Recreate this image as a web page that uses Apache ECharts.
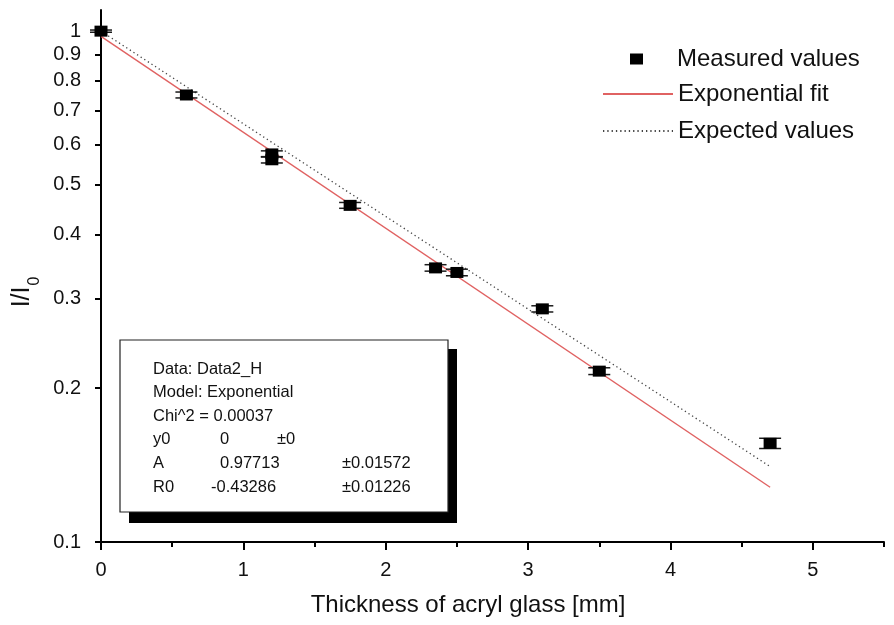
<!DOCTYPE html>
<html>
<head>
<meta charset="utf-8">
<title>Attenuation in acryl glass</title>
<script src="https://cdn.jsdelivr.net/npm/echarts@6/dist/echarts.min.js"></script>
<style>
  html, body { margin: 0; padding: 0; background: #fff; }
  #chart { width: 894px; height: 625px; }
</style>
</head>
<body>
<div id="chart"></div>
<script>
// Measured intensity ratio I/I0 against plate thickness (mm)
const thickness = [0, 0.6, 1.2, 1.2, 1.75, 2.35, 2.5, 3.1, 3.5, 4.7];
const ratio     = [1.0, 0.75, 0.575, 0.56, 0.456, 0.344, 0.337, 0.286, 0.216, 0.156];
const ratioErr  = [0.005, 0.01, 0.008, 0.008, 0.006, 0.005, 0.005, 0.004, 0.0033, 0.0036];

// Exponential fit and expected attenuation (straight lines on a log axis)
const fitX = [0, 4.7];
const fitY = [0.977, 0.128];
const expectedX = [0, 4.7];
const expectedY = [1.0, 0.1405];

// Axis ticks
const yTicks = [0.1, 0.2, 0.3, 0.4, 0.5, 0.6, 0.7, 0.8, 0.9, 1];
const xMajorTicks = [0, 1, 2, 3, 4, 5];
const xMinorTicks = [0.5, 1.5, 2.5, 3.5, 4.5, 5.5];

// Fit report
const reportRows = [
  ['Data: Data2_H'],
  ['Model: Exponential'],
  ['Chi^2 = 0.00037'],
  ['y0', '0', '\u00b10'],
  ['A', '0.97713', '\u00b10.01572'],
  ['R0', '-0.43286', '\u00b10.01226']
];

const FONT = "'Liberation Sans', Arial, Helvetica, sans-serif";
const INK = '#111';

const chart = echarts.init(document.getElementById('chart'), null, { renderer: 'canvas' });

function pair(xs, ys) { return xs.map((x, i) => [x, ys[i]]); }

// report box layout
const boxX = 120, boxY = 340, boxW = 328, boxH = 172;
const rowTop = 369, rowStep = 23.6;
function reportGraphics() {
  const out = [
    { type: 'rect', shape: { x: boxX + 9, y: boxY + 9, width: boxW, height: boxH + 2 }, style: { fill: '#000' }, z: 100 },
    { type: 'rect', shape: { x: boxX, y: boxY, width: boxW, height: boxH }, style: { fill: '#fff', stroke: '#222', lineWidth: 1.2 }, z: 101 }
  ];
  reportRows.forEach((row, r) => {
    const y = rowTop + r * rowStep;
    row.forEach((txt, c) => {
      let x = 153;
      if (c === 1) x = txt.charAt(0) === '-' ? 211 : 220;
      if (c === 2) x = r === 3 ? 277 : 342;
      out.push({
        type: 'text', x: x, y: y, z: 102,
        style: { text: txt, fontSize: 16.5, fontFamily: FONT, fill: INK, verticalAlign: 'middle', align: 'left' }
      });
    });
  });
  return out;
}

const legendText = { fontSize: 24, fontFamily: FONT, color: INK };

const option = {
  backgroundColor: '#fff',
  animation: false,
  grid: { left: 101, right: 10, top: 10, bottom: 83 },
  legend: [
    {
      data: [{ name: 'Measured values', icon: 'rect' }],
      left: 625, top: 42, itemWidth: 13, itemHeight: 11, selectedMode: false,
      itemStyle: { opacity: 1 },
      textStyle: Object.assign({ padding: [0, 0, 0, 29] }, legendText)
    },
    {
      data: ['Exponential fit'],
      left: 597, top: 77, itemWidth: 70, itemHeight: 14, selectedMode: false,
      itemStyle: { opacity: 0 },
      textStyle: Object.assign({ padding: [0, 0, 0, 0] }, legendText)
    },
    {
      data: ['Expected values'],
      left: 597, top: 114, itemWidth: 70, itemHeight: 14, selectedMode: false,
      itemStyle: { opacity: 0 },
      textStyle: Object.assign({ padding: [0, 0, 0, 0] }, legendText)
    }
  ],
  xAxis: [
    {
      type: 'value', min: 0, max: 5.5, interval: 1, position: 'bottom',
      axisLine: { show: true, onZero: false, lineStyle: { color: '#000', width: 2 } },
      axisTick: { show: true, customValues: xMajorTicks, length: 8, lineStyle: { color: '#000', width: 2 } },
      axisLabel: { customValues: xMajorTicks, fontSize: 20, fontFamily: FONT, color: INK, margin: 18 },
      splitLine: { show: false },
      name: 'Thickness of acryl glass [mm]',
      nameLocation: 'middle', nameGap: 51,
      nameTextStyle: { fontSize: 24, fontFamily: FONT, color: INK, padding: [0, 49, 0, 0] }
    },
    {
      type: 'value', min: 0, max: 5.5, interval: 1, position: 'bottom',
      axisLine: { show: false, onZero: false },
      axisTick: { show: true, customValues: xMinorTicks, length: 5, lineStyle: { color: '#000', width: 2 } },
      axisLabel: { show: false },
      splitLine: { show: false }
    }
  ],
  yAxis: {
    type: 'log', logBase: 10, min: 0.1, max: 1.1,
    axisLine: { show: true, onZero: false, lineStyle: { color: '#000', width: 2 } },
    axisTick: { show: true, customValues: yTicks, length: 6, lineStyle: { color: '#000', width: 2 } },
    axisLabel: {
      customValues: yTicks, fontSize: 20, fontFamily: FONT, color: INK, margin: 20,
      formatter: v => String(+(+v).toFixed(2))
    },
    minorTick: { show: false },
    splitLine: { show: false },
    name: '{a|I/I}{b|0}',
    nameLocation: 'middle', nameGap: 54, nameRotate: 90,
    nameTextStyle: {
      padding: [0, 32, 0, 0],
      rich: {
        a: { fontSize: 25, lineHeight: 27, fontFamily: FONT, color: INK, verticalAlign: 'top' },
        b: { fontSize: 16, lineHeight: 16, fontFamily: FONT, color: INK, verticalAlign: 'top', padding: [17, 0, 0, 1] }
      }
    }
  },
  series: [
    {
      name: 'Exponential fit', type: 'line',
      data: pair(fitX, fitY),
      showSymbol: false, symbol: 'none',
      lineStyle: { color: '#e06262', width: 1.4 },
      itemStyle: { color: '#e06262' },
      z: 2
    },
    {
      name: 'Expected values', type: 'line',
      data: pair(expectedX, expectedY),
      showSymbol: false, symbol: 'none',
      lineStyle: { color: '#444', width: 1.3, type: [1.3, 3] },
      itemStyle: { color: '#444' },
      z: 2
    },
    {
      name: 'errors', type: 'custom',
      data: thickness.map((x, i) => [x, ratio[i] - ratioErr[i], ratio[i] + ratioErr[i]]),
      encode: { x: 0, y: [1, 2] },
      silent: true, z: 3,
      renderItem: (params, api) => {
        const x = api.value(0);
        const lo = api.coord([x, api.value(1)]);
        const hi = api.coord([x, api.value(2)]);
        const w = 11;
        const style = { stroke: '#1a1a1a', lineWidth: 1.5 };
        return {
          type: 'group',
          children: [
            { type: 'line', shape: { x1: lo[0], y1: lo[1], x2: hi[0], y2: hi[1] }, style },
            { type: 'line', shape: { x1: lo[0] - w, y1: lo[1], x2: lo[0] + w, y2: lo[1] }, style },
            { type: 'line', shape: { x1: hi[0] - w, y1: hi[1], x2: hi[0] + w, y2: hi[1] }, style }
          ]
        };
      }
    },
    {
      name: 'Measured values', type: 'scatter',
      data: pair(thickness, ratio),
      symbol: 'rect', symbolSize: [13, 11],
      itemStyle: { color: '#000', opacity: 1 },
      z: 4
    }
  ],
  graphic: reportGraphics()
};

chart.setOption(option);
</script>
</body>
</html>
